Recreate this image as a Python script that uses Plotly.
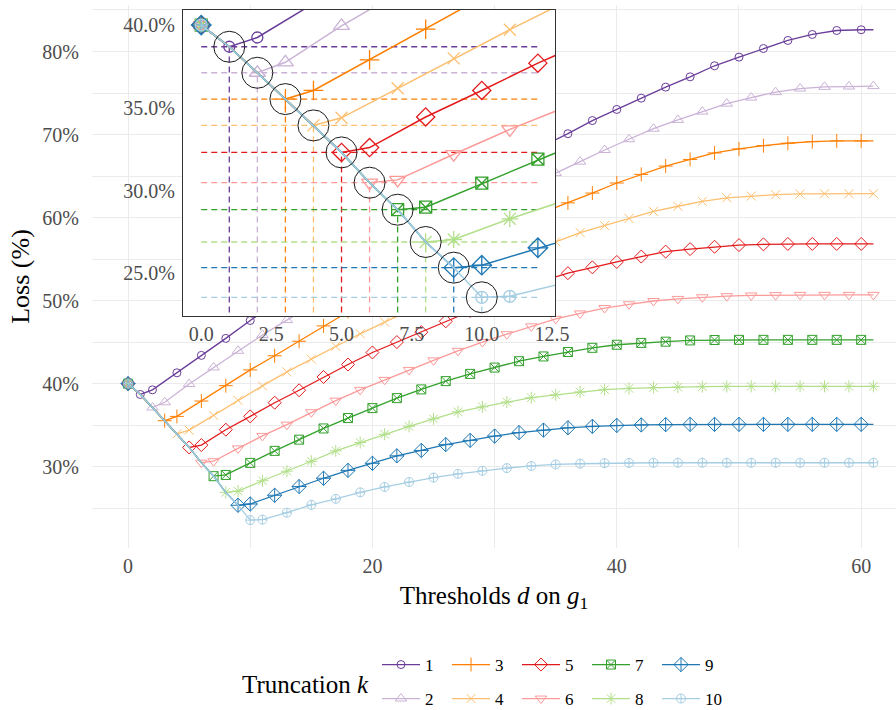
import plotly.graph_objects as go

# ---------------- data ----------------
K_VALUES = [1, 2, 3, 4, 5, 6, 7, 8, 9, 10]
COLORS = ['#6A3D9A', '#CAB2D6', '#FF7F00', '#FDBF6F', '#E31A1C',
          '#FB9A99', '#33A02C', '#B2DF8A', '#1F78B4', '#A6CEE3']
SYMBOLS = ['circle-open', 'triangle-up-open', 'cross-thin-open', 'x-thin-open',
           'diamond-open', 'triangle-down-open', 'square-x-open', 'asterisk-open',
           'diamond-cross-open', 'circle-cross-open']

# shared descent: loss (%) at thresholds d = 0..10
DIAG = [40.0, 38.69, 37.12, 35.53, 33.94, 32.31, 30.48, 28.85, 26.90, 25.35, 23.56]
D_MAX = 61

# loss (%) after the minimum, at d = k+1, k+3, ... (and d = 61 at the end)
RISE_1 = [39.25, 41.3, 43.4, 45.45, 47.6, 49.65, 51.65, 53.6, 55.5, 57.33, 59.1, 60.82,
          62.5, 64.1, 65.65, 67.17, 68.65, 70.1, 71.68, 73.02, 74.38, 75.71, 76.95,
          78.28, 79.32, 80.36, 81.33, 82.05, 82.53, 82.62, 82.62]
RISE_2 = [37.75, 39.95, 41.95, 43.95, 45.85, 47.65, 49.4, 51.15, 52.85, 54.5, 56.1, 57.7,
          59.25, 60.75, 62.3, 63.85, 65.35, 66.73, 68.14, 69.43, 70.7, 71.76, 72.76,
          73.72, 74.45, 75.1, 75.54, 75.74, 75.78, 75.83]
RISE_3 = [36.05, 37.9, 39.75, 41.65, 43.35, 45.1, 46.95, 48.7, 50.4, 52.0, 53.6, 55.1,
          56.6, 58.0, 59.35, 60.65, 61.77, 62.95, 64.16, 65.2, 66.2, 67.0, 67.78, 68.27,
          68.66, 68.95, 69.14, 69.23, 69.23, 69.23]
RISE_4 = [34.4, 36.18, 37.99, 39.72, 41.41, 42.95, 44.5, 46.0, 47.4, 48.8, 50.2, 51.6,
          52.95, 54.3, 55.7, 57.08, 58.19, 59.03, 59.9, 60.74, 61.36, 61.95, 62.38,
          62.59, 62.75, 62.84, 62.87, 62.87, 62.87]
RISE_5 = [32.6, 34.45, 36.05, 37.7, 39.2, 40.8, 42.3, 43.75, 45.0, 46.2, 47.5, 48.75,
          49.95, 51.15, 52.4, 53.3, 54.0, 54.65, 55.3, 55.9, 56.2, 56.48, 56.68, 56.77,
          56.82, 56.82, 56.82, 56.82, 56.82]
RISE_6 = [30.65, 32.2, 33.7, 35.05, 36.55, 37.95, 39.25, 40.45, 41.65, 42.8, 43.95, 45.0,
          45.95, 46.9, 47.8, 48.45, 49.1, 49.55, 49.95, 50.2, 50.4, 50.53, 50.62, 50.66,
          50.69, 50.69, 50.69, 50.69]
RISE_7 = [29.0, 30.45, 31.9, 33.25, 34.6, 35.85, 37.05, 38.25, 39.3, 40.3, 41.17, 41.93,
          42.7, 43.27, 43.81, 44.31, 44.68, 44.9, 45.05, 45.2, 45.25, 45.27, 45.27, 45.27,
          45.27, 45.27, 45.27, 45.27]
RISE_8 = [27.05, 28.3, 29.45, 30.65, 31.9, 32.9, 33.9, 34.85, 35.75, 36.6, 37.2, 37.78,
          38.3, 38.65, 39.0, 39.28, 39.42, 39.52, 39.59, 39.63, 39.66, 39.67, 39.67, 39.67,
          39.67, 39.67, 39.67]
RISE_9 = [25.5, 26.55, 27.6, 28.6, 29.55, 30.4, 31.3, 31.95, 32.65, 33.16, 33.68, 34.1,
          34.4, 34.68, 34.85, 34.96, 35.02, 35.06, 35.09, 35.09, 35.09, 35.09, 35.09,
          35.09, 35.09, 35.09, 35.09]
RISE_10 = [23.62, 24.45, 25.4, 26.12, 26.9, 27.55, 28.15, 28.68, 29.13, 29.5, 29.82, 30.08,
           30.26, 30.35, 30.42, 30.45, 30.47, 30.47, 30.47, 30.47, 30.47, 30.47, 30.47,
           30.47, 30.47, 30.47]
RISES = [RISE_1, RISE_2, RISE_3, RISE_4, RISE_5, RISE_6, RISE_7, RISE_8, RISE_9, RISE_10]

MAIN_XTICKS = [0, 20, 40, 60]
MAIN_XLABELS = ['0', '20', '40', '60']
MAIN_YTICKS = [30, 40, 50, 60, 70, 80]
MAIN_YLABELS = ['30%', '40%', '50%', '60%', '70%', '80%']
INSET_XTICKS = [0.0, 2.5, 5.0, 7.5, 10.0, 12.5]
INSET_XLABELS = ['0.0', '2.5', '5.0', '7.5', '10.0', '12.5']
INSET_YTICKS = [25, 30, 35, 40]
INSET_YLABELS = ['25.0%', '30.0%', '35.0%', '40.0%']

# ---------------- styling ----------------
FONT = 'Liberation Serif, Times New Roman, DejaVu Serif, serif'
TICK_COLOR = '#4D4D4D'
GRID = '#EBEBEB'
W, H = 896, 710
ML, MR, MT, MB = 92, 0, 5, 162
PW, PH = W - ML - MR, H - MT - MB

def px_x(p):
    return (p - ML) / PW

def px_y(p):
    return (H - MB - p) / PH

MAIN_SIZE = [8, 10, 10, 9, 10, 10, 9, 10, 11, 9]
INSET_SIZE = [11, 14, 14, 12, 14, 14, 12, 14, 15, 12]

INSET_XR = [-0.65, 12.61]
INSET_YR = [22.43, 40.91]

fig = go.Figure()

series = []
for i, k in enumerate(K_VALUES):
    rise = RISES[i]
    rx = list(range(k + 1, D_MAX + 1, 2))
    mflag = [True] * len(rx)
    if rx[-1] != D_MAX:
        rx.append(D_MAX)
        mflag.append(False)
    assert len(rx) == len(rise), (k, len(rx), len(rise))
    xl = list(range(0, k + 1)) + rx
    yl = DIAG[:k + 1] + rise
    mx = [0, k] + [x for x, f in zip(rx, mflag) if f]
    my = [DIAG[0], DIAG[k]] + [y for y, f in zip(rise, mflag) if f]
    series.append((xl, yl, mx, my))

# ---- main panel ----
for i, k in enumerate(K_VALUES):
    xl, yl, mx, my = series[i]
    fig.add_trace(go.Scatter(x=xl, y=yl, mode='lines', xaxis='x', yaxis='y',
                             line=dict(color=COLORS[i], width=1.3),
                             showlegend=False, hoverinfo='skip'))
    fig.add_trace(go.Scatter(x=mx, y=my, mode='markers', xaxis='x', yaxis='y',
                             marker=dict(symbol=SYMBOLS[i], size=MAIN_SIZE[i], color=COLORS[i],
                                         line=dict(width=1, color=COLORS[i])),
                             showlegend=False, hoverinfo='skip'))

# ---- inset panel ----
for i, k in enumerate(K_VALUES):
    fig.add_trace(go.Scatter(x=[0, 12, None, k, k], y=[DIAG[k], DIAG[k], None, INSET_YR[0] - 1, DIAG[k]],
                             mode='lines', xaxis='x2', yaxis='y2',
                             line=dict(color=COLORS[i], width=1.3, dash='6px,4px'),
                             showlegend=False, hoverinfo='skip'))
for i, k in enumerate(K_VALUES):
    xl, yl, mx, my = series[i]
    fig.add_trace(go.Scatter(x=xl, y=yl, mode='lines', xaxis='x2', yaxis='y2',
                             line=dict(color=COLORS[i], width=1.5),
                             showlegend=False, hoverinfo='skip'))
    fig.add_trace(go.Scatter(x=mx, y=my, mode='markers', xaxis='x2', yaxis='y2',
                             marker=dict(symbol=SYMBOLS[i], size=INSET_SIZE[i], color=COLORS[i],
                                         line=dict(width=1.3, color=COLORS[i])),
                             showlegend=False, hoverinfo='skip'))
fig.add_trace(go.Scatter(x=K_VALUES, y=[DIAG[k] for k in K_VALUES], mode='markers',
                         xaxis='x2', yaxis='y2',
                         marker=dict(symbol='circle-open', size=31, color='#1a1a1a',
                                     line=dict(width=1, color='#1a1a1a')),
                         showlegend=False, hoverinfo='skip'))

# ---- legend entries ----
for i, k in enumerate(K_VALUES):
    fig.add_trace(go.Scatter(x=[None], y=[None], mode='lines+markers', name=str(k),
                             legend='legend' if k % 2 == 1 else 'legend2',
                             line=dict(color=COLORS[i], width=1.3),
                             marker=dict(symbol=SYMBOLS[i], size=MAIN_SIZE[i], color=COLORS[i],
                                         line=dict(width=1, color=COLORS[i]))))

tickfont = dict(family=FONT, size=20, color=TICK_COLOR)
legfont = dict(family=FONT, size=17, color='black')

fig.update_layout(
    width=W, height=H,
    margin=dict(l=ML, r=MR, t=MT, b=MB, autoexpand=False),
    paper_bgcolor='white', plot_bgcolor='white',
    font=dict(family=FONT),
    xaxis=dict(domain=[0, 1], range=[-2.95, 62.85], tickvals=MAIN_XTICKS, ticktext=MAIN_XLABELS,
               showgrid=True, gridcolor=GRID, gridwidth=1.2, zeroline=False, automargin=False,
               showline=False, ticks='', tickfont=tickfont, ticklabelstandoff=4,
               minor=dict(dtick=10, tick0=0, showgrid=True, gridcolor=GRID, gridwidth=0.6),
               title=dict(text='Thresholds <i>d</i> on <i>g</i><sub>1</sub>',
                          font=dict(family=FONT, size=25, color='black'), standoff=10)),
    yaxis=dict(domain=[0, 1], range=[20.2, 85.6], tickvals=MAIN_YTICKS, ticktext=MAIN_YLABELS,
               showgrid=True, gridcolor=GRID, gridwidth=1.2, zeroline=False, automargin=False,
               showline=False, ticks='', tickfont=tickfont, ticklabelstandoff=12,
               minor=dict(dtick=5, tick0=0, showgrid=True, gridcolor=GRID, gridwidth=0.6),
               title=dict(text='Loss (%)', font=dict(family=FONT, size=26, color='black'),
                          standoff=5)),
    xaxis2=dict(domain=[px_x(183), px_x(555)], anchor='y2', range=INSET_XR,
                tickvals=INSET_XTICKS, ticktext=INSET_XLABELS, showgrid=False, zeroline=False,
                showline=True, mirror=True, linecolor='#333333', linewidth=1.4, automargin=False,
                ticks='', tickfont=tickfont, ticklabelstandoff=0),
    yaxis2=dict(domain=[px_y(316), px_y(10)], anchor='x2', range=INSET_YR,
                tickvals=INSET_YTICKS, ticktext=INSET_YLABELS, showgrid=False,
                zeroline=False, showline=True, mirror=True, linecolor='#333333', automargin=False,
                linewidth=1.4, ticks='', tickfont=tickfont, ticklabelstandoff=3),
    legend=dict(orientation='h', x=px_x(377), xanchor='left', y=px_y(665), yanchor='middle',
                font=legfont, itemwidth=38, entrywidth=17, entrywidthmode='pixels',
                bgcolor='rgba(0,0,0,0)', traceorder='normal'),
    legend2=dict(orientation='h', x=px_x(377), xanchor='left', y=px_y(699), yanchor='middle',
                 font=legfont, itemwidth=38, entrywidth=17, entrywidthmode='pixels',
                 bgcolor='rgba(0,0,0,0)', traceorder='normal'),
    annotations=[dict(text='Truncation <i>k</i>', xref='paper', yref='paper',
                      x=px_x(240), y=px_y(684), xanchor='left', yanchor='middle',
                      showarrow=False, font=dict(family=FONT, size=25, color='black'))],
)

fig.write_html('out.html', config={'displayModeBar': False},
               post_script="document.body.style.margin='0px';")
